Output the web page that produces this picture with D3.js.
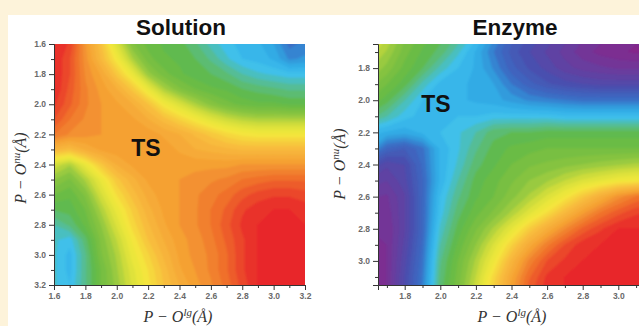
<!DOCTYPE html>
<html><head><meta charset="utf-8">
<script src="https://cdn.jsdelivr.net/npm/d3@7"></script>
<style>body{margin:0;background:#fdf3da;overflow:hidden}svg{display:block}</style>
</head><body>
<svg id="c" width="639" height="326"></svg>
<script>
// ---- data ----
const gridCoords = [1.6,1.7,1.8,1.9,2.0,2.1,2.2,2.3,2.4,2.5,2.6,2.7,2.8,2.9,3.0,3.1,3.2];

// Solution surface (rows: P-O_nu from 1.6 to 3.2, cols: P-O_lg from 1.6 to 3.2), normalised level 0..1
const solutionValues = [
[1.00,0.97,0.85,0.75,0.63,0.53,0.49,0.47,0.46,0.43,0.39,0.36,0.34,0.33,0.30,0.24,0.26],
[1.00,0.95,0.86,0.77,0.68,0.58,0.51,0.48,0.47,0.45,0.42,0.38,0.35,0.34,0.32,0.27,0.28],
[1.00,0.95,0.87,0.82,0.74,0.66,0.56,0.51,0.48,0.46,0.45,0.43,0.40,0.38,0.37,0.36,0.36],
[1.00,0.94,0.88,0.84,0.80,0.74,0.66,0.58,0.53,0.50,0.48,0.47,0.45,0.44,0.43,0.42,0.42],
[0.98,0.93,0.88,0.85,0.83,0.80,0.75,0.68,0.63,0.58,0.54,0.51,0.49,0.48,0.48,0.47,0.47],
[0.95,0.90,0.87,0.85,0.84,0.83,0.80,0.76,0.72,0.68,0.64,0.61,0.59,0.58,0.58,0.58,0.58],
[0.90,0.87,0.86,0.85,0.85,0.85,0.84,0.82,0.80,0.77,0.74,0.71,0.69,0.68,0.68,0.68,0.68],
[0.78,0.76,0.80,0.83,0.84,0.85,0.85,0.84,0.82,0.80,0.79,0.78,0.77,0.77,0.77,0.77,0.77],
[0.62,0.58,0.66,0.74,0.80,0.83,0.85,0.85,0.84,0.84,0.84,0.84,0.85,0.85,0.85,0.85,0.85],
[0.55,0.52,0.58,0.66,0.74,0.79,0.83,0.85,0.85,0.86,0.87,0.88,0.90,0.91,0.92,0.92,0.92],
[0.50,0.48,0.53,0.62,0.70,0.76,0.81,0.84,0.85,0.87,0.89,0.91,0.94,0.96,0.97,0.97,0.96],
[0.45,0.46,0.50,0.58,0.66,0.73,0.79,0.83,0.85,0.87,0.90,0.93,0.97,0.99,1.00,1.00,0.99],
[0.40,0.43,0.48,0.55,0.63,0.71,0.77,0.82,0.85,0.87,0.90,0.94,0.98,1.00,1.00,1.00,1.00],
[0.38,0.36,0.44,0.53,0.60,0.68,0.75,0.80,0.84,0.86,0.89,0.93,0.97,1.00,1.00,1.00,1.00],
[0.38,0.34,0.42,0.52,0.58,0.66,0.72,0.78,0.83,0.86,0.88,0.92,0.97,1.00,1.00,1.00,1.00],
[0.38,0.34,0.42,0.50,0.57,0.64,0.70,0.76,0.82,0.85,0.88,0.92,0.97,1.00,1.00,1.00,1.00],
[0.38,0.35,0.42,0.50,0.56,0.63,0.69,0.75,0.80,0.84,0.87,0.91,0.96,1.00,1.00,1.00,1.00]
];

// Enzyme surface (same grid layout)
const enzymeValues = [
[0.66,0.60,0.53,0.49,0.46,0.42,0.36,0.28,0.21,0.17,0.14,0.11,0.08,0.06,0.04,0.03,0.03],
[0.62,0.57,0.51,0.47,0.44,0.38,0.32,0.25,0.19,0.15,0.12,0.09,0.06,0.04,0.03,0.02,0.03],
[0.58,0.54,0.49,0.45,0.39,0.35,0.32,0.27,0.21,0.17,0.14,0.11,0.09,0.08,0.07,0.07,0.07],
[0.54,0.50,0.46,0.39,0.34,0.33,0.32,0.30,0.25,0.21,0.18,0.16,0.15,0.14,0.14,0.14,0.14],
[0.50,0.46,0.40,0.35,0.33,0.33,0.32,0.31,0.29,0.27,0.26,0.25,0.24,0.24,0.24,0.24,0.24],
[0.44,0.40,0.36,0.34,0.34,0.35,0.35,0.36,0.36,0.36,0.36,0.35,0.35,0.35,0.35,0.35,0.35],
[0.34,0.32,0.31,0.33,0.35,0.37,0.40,0.44,0.45,0.45,0.46,0.46,0.46,0.46,0.46,0.46,0.46],
[0.30,0.22,0.20,0.24,0.33,0.37,0.42,0.46,0.48,0.49,0.50,0.50,0.50,0.50,0.50,0.50,0.50],
[0.18,0.13,0.15,0.23,0.33,0.38,0.44,0.47,0.50,0.52,0.53,0.54,0.55,0.56,0.57,0.58,0.58],
[0.12,0.10,0.14,0.22,0.33,0.40,0.46,0.49,0.52,0.55,0.57,0.60,0.63,0.65,0.67,0.68,0.68],
[0.08,0.07,0.12,0.22,0.35,0.42,0.47,0.50,0.54,0.58,0.63,0.68,0.74,0.80,0.86,0.90,0.92],
[0.06,0.06,0.12,0.22,0.36,0.44,0.49,0.53,0.58,0.64,0.70,0.77,0.84,0.90,0.94,0.97,0.98],
[0.05,0.05,0.12,0.22,0.38,0.46,0.52,0.58,0.65,0.73,0.80,0.87,0.93,0.97,1.00,1.00,1.00],
[0.04,0.05,0.13,0.23,0.40,0.48,0.55,0.63,0.72,0.81,0.89,0.95,0.99,1.00,1.00,1.00,1.00],
[0.03,0.05,0.14,0.24,0.42,0.50,0.58,0.67,0.78,0.88,0.95,0.98,1.00,1.00,1.00,1.00,1.00],
[0.02,0.05,0.15,0.25,0.43,0.51,0.60,0.71,0.82,0.92,0.98,1.00,1.00,1.00,1.00,1.00,1.00],
[0.02,0.05,0.15,0.26,0.44,0.52,0.62,0.73,0.84,0.94,0.99,1.00,1.00,1.00,1.00,1.00,1.00]
];

const solutionMajor = [1.6,1.8,2.0,2.2,2.4,2.6,2.8,3.0,3.2];
const solutionMinor = [1.7,1.9,2.1,2.3,2.5,2.7,2.9,3.1];
const enzymeMajor = [1.8,2.0,2.2,2.4,2.6,2.8,3.0];
const enzymeMinor = [1.7,1.9,2.1,2.3,2.5,2.7,2.9,3.1];

const colorStops = [0.00,0.08,0.16,0.24,0.30,0.36,0.42,0.47,0.55,0.62,0.68,0.76,0.84,0.92,1.00];
const colorList = ["#8a2387","#6c3a9c","#4a4fae","#3a6fc6","#2fa6e2","#3ec0ee","#58bd8a","#62b946","#8cc540","#d6df3a","#f4e93c","#f8bd3e","#f5a033","#ef6a2a","#e8262a"];

// ---- drawing ----
const svg = d3.select("#c");
svg.append("rect").attr("x",8).attr("y",15).attr("width",631).attr("height",311).attr("fill","#ffffff");

const color = d3.scaleLinear().domain(colorStops).range(colorList).clamp(true);
const levels = d3.range(0, 1.0001, 0.025);

const defs = svg.append("defs");
defs.append("filter").attr("id","soft").attr("x","-5%").attr("y","-5%").attr("width","110%").attr("height","110%")
  .append("feGaussianBlur").attr("stdDeviation",1.3);

function panel(cfg){
  const x = d3.scaleLinear().domain(cfg.domX).range(cfg.rx);
  const y = d3.scaleLinear().domain(cfg.domY).range(cfg.ry);
  const n = gridCoords.length;
  const step = gridCoords[1]-gridCoords[0];
  const g0 = gridCoords[0];
  defs.append("clipPath").attr("id",cfg.id+"clip").append("rect")
    .attr("x",cfg.rx[0]).attr("y",cfg.ry[0])
    .attr("width",cfg.rx[1]-cfg.rx[0]).attr("height",cfg.ry[1]-cfg.ry[0]);
  const contours = d3.contours().size([n,n]).thresholds(levels)(cfg.values.flat());
  const proj = d3.geoTransform({point(px,py){
    this.stream.point(x(g0+(px-0.5)*step), y(g0+(py-0.5)*step));
  }});
  const path = d3.geoPath(proj);
  const dl = levels[1]-levels[0];
  svg.append("g").attr("clip-path",`url(#${cfg.id}clip)`)
    .append("g").attr("filter","url(#soft)")
    .selectAll("path").data(contours).join("path")
    .attr("d",path).attr("fill",d=>color(Math.min(1,d.value+dl/2)))
    .attr("stroke",d=>color(Math.min(1,d.value+dl/2))).attr("stroke-width",0.5);

  const axStyle = sel=>{
    sel.selectAll("text").attr("font-family","Arial, Liberation Sans, sans-serif")
      .attr("font-size",8.5).attr("font-weight","bold").attr("fill","#6a6a6a");
    sel.selectAll("line").attr("stroke","#333");
    sel.select(".domain").attr("stroke","#333");
  };
  const xb = svg.append("g").attr("transform",`translate(0,${cfg.ry[1]})`);
  xb.call(d3.axisBottom(x).tickValues(cfg.major).tickSize(5).tickPadding(3).tickFormat(d3.format(".1f"))).call(axStyle);
  xb.append("g").call(d3.axisBottom(x).tickValues(cfg.minor).tickSize(3).tickFormat("")).call(axStyle).select(".domain").remove();
  const yl = svg.append("g").attr("transform",`translate(${cfg.rx[0]},0)`);
  yl.call(d3.axisLeft(y).tickValues(cfg.major).tickSize(5).tickPadding(3).tickFormat(d3.format(".1f"))).call(axStyle);
  yl.append("g").call(d3.axisLeft(y).tickValues(cfg.minor).tickSize(3).tickFormat("")).call(axStyle).select(".domain").remove();

  svg.append("text").attr("x",cfg.titleX).attr("y",35).attr("text-anchor","middle")
    .attr("font-family","Arial, Liberation Sans, sans-serif").attr("font-weight","bold")
    .attr("font-size",22.5).attr("fill","#111").text(cfg.title);
  svg.append("text").attr("x",cfg.tsX).attr("y",cfg.tsY).attr("text-anchor","middle")
    .attr("font-family","Arial, Liberation Sans, sans-serif").attr("font-weight","bold")
    .attr("font-size",23).attr("fill","#111").text("TS");

  // axis titles
  const serif = "Liberation Serif, DejaVu Serif, serif";
  const xt = svg.append("text").attr("x",cfg.xlabX).attr("y",322).attr("text-anchor","middle")
    .attr("font-family",serif).attr("font-style","italic").attr("font-size",16).attr("fill","#333");
  xt.append("tspan").text("P − O");
  xt.append("tspan").attr("dy",-6).attr("font-size",11).text("lg");
  xt.append("tspan").attr("dy",6).text("(Å)");
  const yt = svg.append("text").attr("transform",`translate(${cfg.ylabX},${cfg.ylabY}) rotate(-90)`)
    .attr("text-anchor","middle")
    .attr("font-family",serif).attr("font-style","italic").attr("font-size",16).attr("fill","#333");
  yt.append("tspan").text("P − O");
  yt.append("tspan").attr("dy",-6).attr("font-size",11).text("nu");
  yt.append("tspan").attr("dy",6).text("(Å)");
}

panel({id:"sol", values:solutionValues, domX:[1.6,3.2], domY:[1.6,3.2], rx:[54,305], ry:[44,285],
  major:solutionMajor, minor:solutionMinor, title:"Solution", titleX:181, tsX:146, tsY:156,
  xlabX:178, ylabX:26, ylabY:168});
panel({id:"enz", values:enzymeValues, domX:[1.65,3.15], domY:[1.65,3.15], rx:[378,645], ry:[44,285],
  major:enzymeMajor, minor:enzymeMinor, title:"Enzyme", titleX:515, tsX:436, tsY:112,
  xlabX:512, ylabX:345, ylabY:164});
</script>
</body></html>
